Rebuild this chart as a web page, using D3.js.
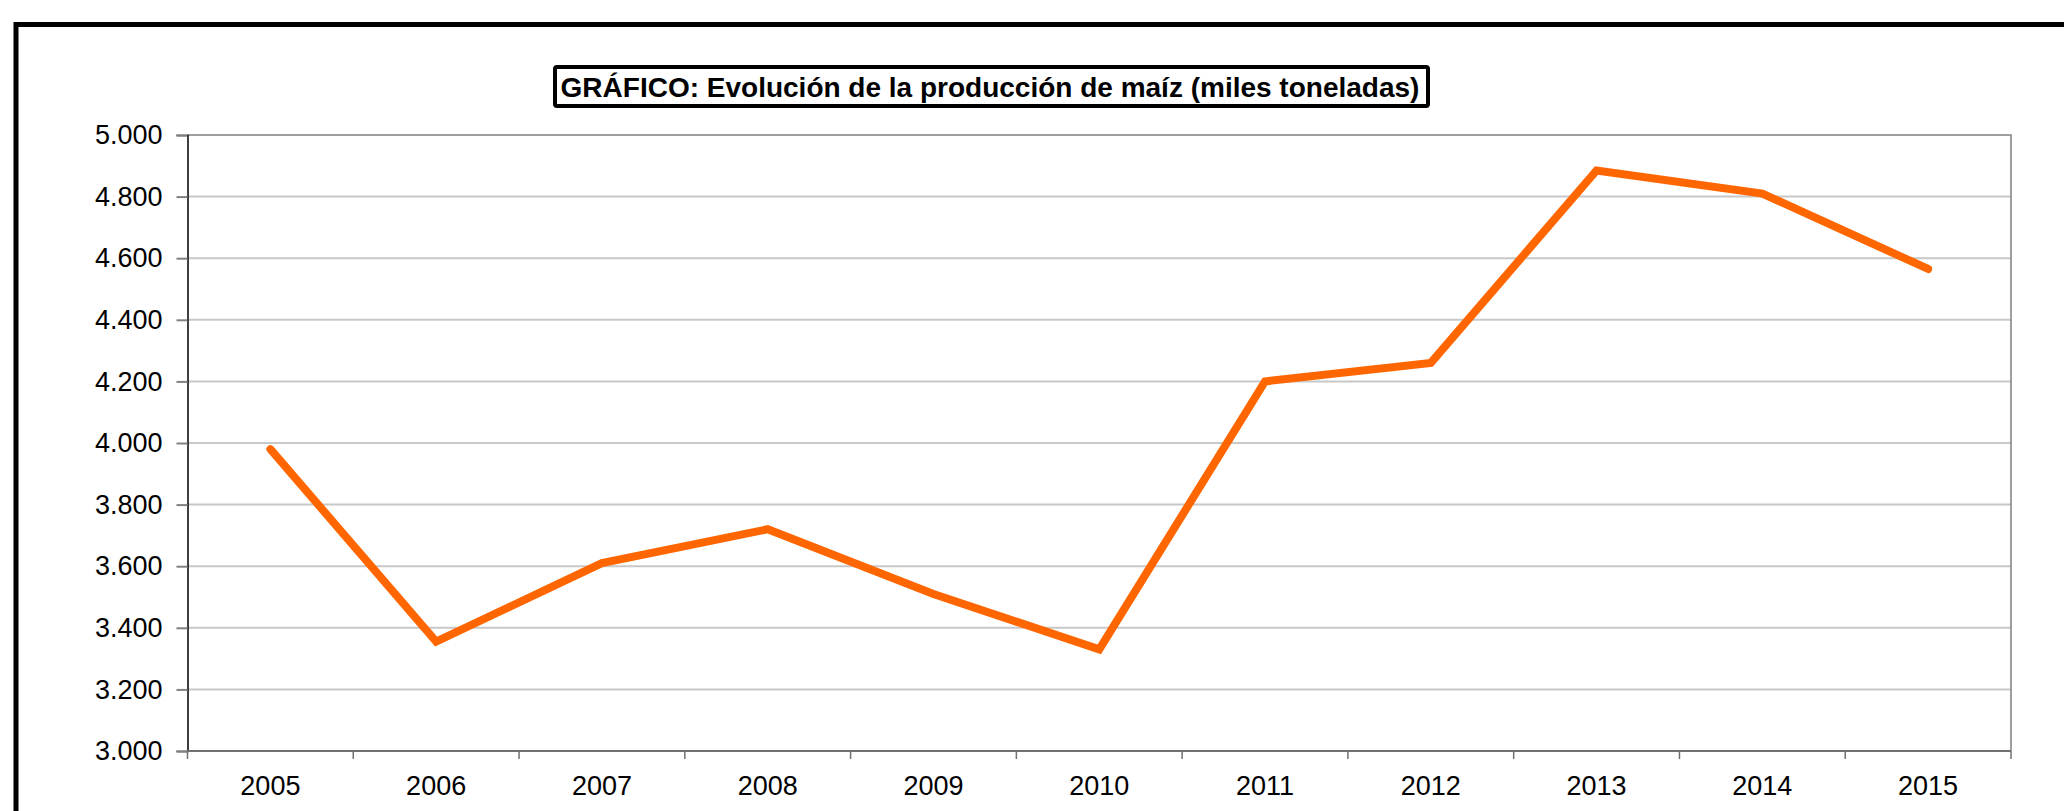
<!DOCTYPE html>
<html>
<head>
<meta charset="utf-8">
<script src="https://cdn.jsdelivr.net/npm/d3@7"></script>
<style>
  html, body { margin: 0; padding: 0; background: #fff; }
  svg { display: block; }
</style>
</head>
<body>
<div id="wrapper"></div>
<script>
// data
const years = ["2005", "2006", "2007", "2008", "2009", "2010", "2011", "2012", "2013", "2014", "2015"];
const production = [3980, 3355, 3610, 3720, 3510, 3330, 4200, 4260, 4885, 4810, 4565];
const yTicks = [3000, 3200, 3400, 3600, 3800, 4000, 4200, 4400, 4600, 4800, 5000];
const title = "GRÁFICO: Evolución de la producción de maíz (miles toneladas)";

function drawChart() {
    //dimensions
    let dimensions = {
        width: 2064,
        height: 811,
        margin: {
            top: 135,
            right: 53,
            bottom: 60,
            left: 187.5,
        }
    };
    dimensions.boundedWidth = dimensions.width
        - dimensions.margin.left
        - dimensions.margin.right;
    dimensions.boundedHeight = dimensions.height
        - dimensions.margin.top
        - dimensions.margin.bottom;

    const svg = d3.select("#wrapper").append("svg")
        .attr("width", dimensions.width)
        .attr("height", dimensions.height)
        .style("font-family", "'Liberation Sans', Arial, sans-serif");

    // outer frame (runs off the right and bottom edge)
    svg.append("rect")
        .attr("x", 16)
        .attr("y", 24.5)
        .attr("width", dimensions.width + 20)
        .attr("height", dimensions.height + 20)
        .attr("fill", "none")
        .attr("stroke", "#000")
        .attr("stroke-width", 5);

    const bounds = svg.append("g")
        .attr("transform", `translate(${dimensions.margin.left}, ${dimensions.margin.top})`);

    // scales
    const xScale = d3.scaleBand()
        .domain(years)
        .range([0, dimensions.boundedWidth]);
    const yScale = d3.scaleLinear()
        .domain([3000, 5000])
        .range([dimensions.boundedHeight, 0]);

    const esLocale = d3.formatLocale({decimal: ",", thousands: ".", grouping: [3], currency: ["", " €"]});
    const fmt = esLocale.format(",");

    // gridlines
    bounds.append("g")
        .selectAll("line")
        .data(yTicks.slice(1, -1))
        .join("line")
        .attr("x1", 0)
        .attr("x2", dimensions.boundedWidth)
        .attr("y1", d => yScale(d))
        .attr("y2", d => yScale(d))
        .attr("stroke", "#c8c8c8")
        .attr("stroke-width", 2);

    // plot area frame: top + right
    bounds.append("path")
        .attr("d", `M0,${yScale(5000)}H${dimensions.boundedWidth}V${dimensions.boundedHeight}`)
        .attr("fill", "none")
        .attr("stroke", "#808080")
        .attr("stroke-width", 1.5);

    // y axis
    const yAxis = bounds.append("g")
        .call(d3.axisLeft(yScale)
            .tickValues(yTicks)
            .tickFormat(fmt)
            .tickSize(11)
            .tickPadding(14));
    yAxis.select(".domain").attr("stroke", "#000").attr("stroke-width", 1.5);
    yAxis.selectAll(".tick line").attr("stroke", "#808080").attr("stroke-width", 2);
    yAxis.selectAll("text")
        .attr("fill", "#000")
        .style("font-size", "27px");

    // x axis: ticks on category boundaries
    const boundaries = years.map(d => xScale(d)).concat([dimensions.boundedWidth]);
    const xAxis = bounds.append("g")
        .attr("transform", `translate(0, ${dimensions.boundedHeight})`);
    xAxis.append("line")
        .attr("x1", 0)
        .attr("x2", dimensions.boundedWidth)
        .attr("stroke", "#707070")
        .attr("stroke-width", 2);
    xAxis.selectAll(".xtick")
        .data(boundaries)
        .join("line")
        .attr("class", "xtick")
        .attr("x1", d => d)
        .attr("x2", d => d)
        .attr("y1", 0)
        .attr("y2", 8)
        .attr("stroke", "#707070")
        .attr("stroke-width", 1.5);
    xAxis.selectAll(".xlabel")
        .data(years)
        .join("text")
        .attr("class", "xlabel")
        .attr("x", d => xScale(d) + xScale.bandwidth() / 2)
        .attr("y", 43.5)
        .attr("text-anchor", "middle")
        .attr("fill", "#000")
        .style("font-size", "27px")
        .text(d => d);

    // line
    const lineGenerator = d3.line()
        .x((d, i) => xScale(years[i]) + xScale.bandwidth() / 2)
        .y(d => yScale(d));
    bounds.append("path")
        .datum(production)
        .attr("d", lineGenerator)
        .attr("fill", "none")
        .attr("stroke", "#ff6600")
        .attr("stroke-width", 8)
        .attr("stroke-linejoin", "miter")
        .attr("stroke-linecap", "round");

    // title box
    const titleG = svg.append("g");
    const titleText = titleG.append("text")
        .attr("x", 990)
        .attr("y", 97)
        .attr("text-anchor", "middle")
        .attr("fill", "#000")
        .style("font-size", "28px")
        .style("font-weight", "bold")
        .text(title);
    titleG.insert("rect", "text")
        .attr("x", 555)
        .attr("y", 67)
        .attr("width", 873)
        .attr("height", 39)
        .attr("rx", 2)
        .attr("fill", "#fff")
        .attr("stroke", "#000")
        .attr("stroke-width", 4);
}

drawChart();
</script>
</body>
</html>
